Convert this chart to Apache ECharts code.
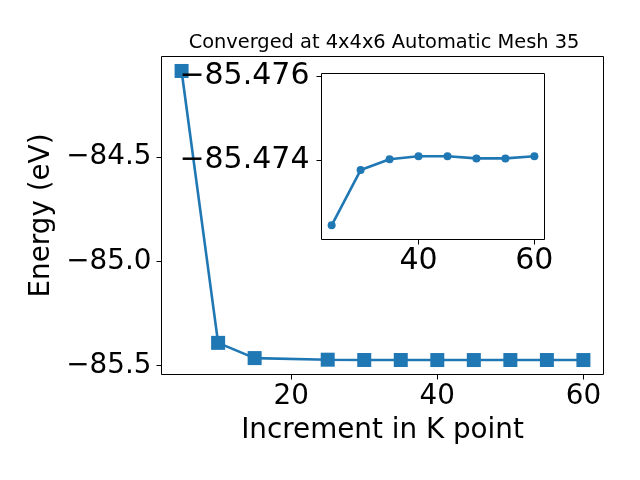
<!DOCTYPE html>
<html>
<head>
<meta charset="utf-8">
<script src="https://cdn.jsdelivr.net/npm/echarts@6/dist/echarts.min.js"></script>
<style>html,body{margin:0;padding:0;background:#fff;}#c{width:640px;height:480px;}</style>
</head>
<body>
<div id="c"></div>
<script>
const kpoints = [5, 10, 15, 25, 30, 35, 40, 45, 50, 55, 60];
const energy = [-84.0864, -85.3916, -85.4647, -85.47244, -85.47376, -85.47402, -85.47409, -85.47409, -85.47404, -85.47404, -85.47409];
const insetK = [25, 30, 35, 40, 45, 50, 55, 60];
const insetE = [-85.47244, -85.47376, -85.47402, -85.47409, -85.47409, -85.47404, -85.47404, -85.47409];
const mainXTicks = [20, 40, 60];
const mainYTicks = [-85.5, -85.0, -84.5];
const insetXTicks = [40, 60];
const insetYTicks = [-85.476, -85.474];
const titleText = 'Converged at 4x4x6 Automatic Mesh 35';
const xName = 'Increment in K point';
const yName = 'Energy (eV)';

const FONT = 'DejaVu Sans';
const BLUE = '#1f77b4';
function fmt(d) { return v => (v < 0 ? '\u2212' : '') + Math.abs(v).toFixed(d); }

const chart = echarts.init(document.getElementById('c'), null, {renderer: 'canvas'});
chart.setOption({
  animation: false,
  backgroundColor: '#fff',
  title: {
    text: titleText, left: 379, top: 28, textAlign: 'center',
    textStyle: {fontFamily: FONT, fontSize: 19.4, fontWeight: 'normal', color: '#000'}
  },
  grid: [
    {left: 161.5, top: 56.5, width: 442, height: 318, show: true, borderColor: '#000', borderWidth: 1, backgroundColor: '#fff'},
    {left: 321.5, top: 73.5, width: 223, height: 166, show: true, borderColor: '#000', borderWidth: 1, backgroundColor: '#fff', z: 5}
  ],
  xAxis: [
    {
      type: 'value', gridIndex: 0, min: 2.25, max: 62.75,
      name: xName, nameLocation: 'middle', nameGap: 42,
      nameTextStyle: {fontFamily: FONT, fontSize: 27.8, color: '#000'},
      splitLine: {show: false}, axisLine: {show: false},
      axisTick: {show: true, length: 5, customValues: mainXTicks, lineStyle: {color: '#000'}},
      axisLabel: {customValues: mainXTicks, margin: 8, fontFamily: FONT, fontSize: 27.8, color: '#000'}
    },
    {
      type: 'value', gridIndex: 1, min: 23.25, max: 61.75, z: 6,
      splitLine: {show: false}, axisLine: {show: false},
      axisTick: {show: true, length: 5, customValues: insetXTicks, lineStyle: {color: '#000'}},
      axisLabel: {customValues: insetXTicks, margin: 7, fontFamily: FONT, fontSize: 30, color: '#000'}
    }
  ],
  yAxis: [
    {
      type: 'value', gridIndex: 0, min: -85.5435, max: -84.017,
      name: yName, nameLocation: 'middle', nameGap: 85,
      nameTextStyle: {fontFamily: FONT, fontSize: 27.8, color: '#000'},
      splitLine: {show: false}, axisLine: {show: false},
      axisTick: {show: true, length: 5, customValues: mainYTicks, lineStyle: {color: '#000'}},
      axisLabel: {customValues: mainYTicks, formatter: fmt(1), margin: 10, fontFamily: FONT, fontSize: 27.8, color: '#000'}
    },
    {
      type: 'value', gridIndex: 1, min: -85.47607, max: -85.4721, inverse: true, z: 6,
      splitLine: {show: false}, axisLine: {show: false},
      axisTick: {show: true, length: 5, customValues: insetYTicks, lineStyle: {color: '#000'}},
      axisLabel: {customValues: insetYTicks, formatter: fmt(3), margin: 12, fontFamily: FONT, fontSize: 30, color: '#000'}
    }
  ],
  series: [
    {
      type: 'line', xAxisIndex: 0, yAxisIndex: 0,
      data: kpoints.map((k, i) => [k, energy[i]]),
      symbol: 'rect', symbolSize: 14, showAllSymbol: true,
      itemStyle: {color: BLUE}, lineStyle: {color: BLUE, width: 2.6}
    },
    {
      type: 'line', xAxisIndex: 1, yAxisIndex: 1, z: 7,
      data: insetK.map((k, i) => [k, insetE[i]]),
      symbol: 'circle', symbolSize: 8, showAllSymbol: true,
      itemStyle: {color: BLUE}, lineStyle: {color: BLUE, width: 2.6}
    }
  ]
});
</script>
</body>
</html>
